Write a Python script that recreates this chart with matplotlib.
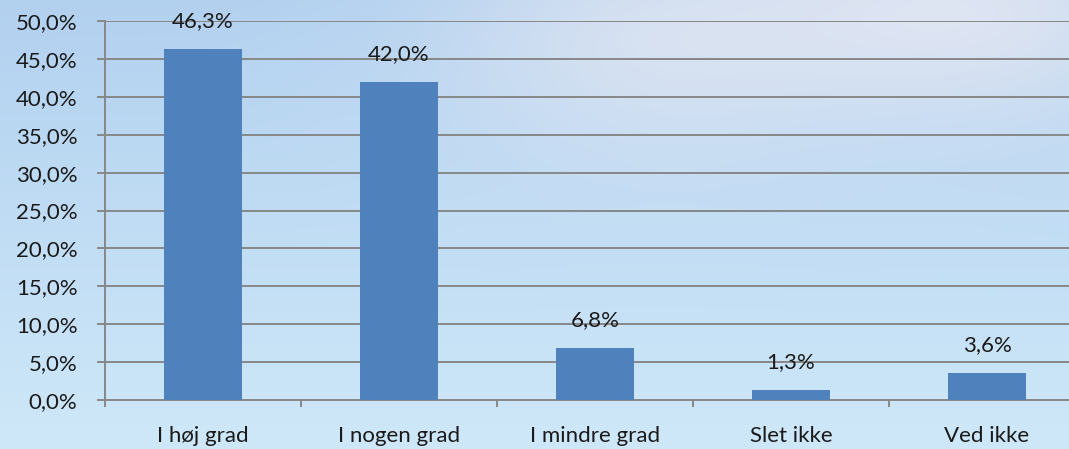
import numpy as np
import matplotlib
matplotlib.use("Agg")
import matplotlib.pyplot as plt
from matplotlib.ticker import FuncFormatter

categories = ["I høj grad", "I nogen grad", "I mindre grad", "Slet ikke", "Ved ikke"]
values = [46.3, 42.0, 6.8, 1.3, 3.6]
value_labels = ["46,3%", "42,0%", "6,8%", "1,3%", "3,6%"]
yticks = [0, 5, 10, 15, 20, 25, 30, 35, 40, 45, 50]

plt.rcParams['font.family'] = ['Lato', 'DejaVu Sans']
FS = 16
TXT = '#1a1a1a'

W, H = 1069, 449
fig = plt.figure(figsize=(W / 100, H / 100), dpi=100)

# sky background
bg = fig.add_axes([0, 0, 1, 1])
yy, xx = np.mgrid[0:H, 0:W]
top = np.array([0.70, 0.82, 0.94])
bot = np.array([0.81, 0.91, 0.975])
t = (yy / H)[..., None]
img = top * (1 - t) + bot * t
cloud = np.exp(-(((xx - 650) / 220.0) ** 2 + ((yy - 40) / 130.0) ** 2))
cloud2 = np.exp(-(((xx - 980) / 220.0) ** 2 + ((yy - 10) / 120.0) ** 2))
c = np.clip(0.7 * cloud + 0.85 * cloud2, 0, 1)[..., None]
cloudcol = np.array([0.88, 0.90, 0.95])
img = img * (1 - c) + cloudcol * c
bg.imshow(img, aspect='auto', extent=[0, 1, 0, 1], origin='upper')
bg.axis('off')

ax = fig.add_axes([105 / W, 49 / H, 980 / W, 379 / H])
ax.patch.set_alpha(0)
x = np.arange(len(categories))
ax.bar(x, values, width=0.4, color='#4f81bd', zorder=3)
for xi, v, lab in zip(x, values, value_labels):
    ax.annotate(lab, (xi, v), xytext=(0, 28), textcoords='offset pixels',
                ha='center', va='center', fontsize=FS, color=TXT, zorder=4)

ax.set_xlim(-0.5, len(categories) - 0.5)
ax.set_ylim(0, 50)
ax.set_yticks(yticks)
ax.yaxis.set_major_formatter(FuncFormatter(lambda v, p: f"{v:.1f}%".replace('.', ',')))
ax.grid(axis='y', color='#878787', linewidth=1.4, zorder=1)
ax.set_axisbelow(True)

ax.set_xticks(x)
ax.set_xticklabels(categories)
ax.set_xticks(np.arange(-0.5, len(categories) + 0.5, 1), minor=True)
ax.tick_params(axis='x', which='major', length=0, pad=19, labelsize=FS, labelcolor=TXT)
ax.tick_params(axis='x', which='minor', length=5, width=1.4, color='#878787', direction='out')
ax.tick_params(axis='y', length=5.8, width=1.4, color='#878787', pad=14, labelsize=FS, labelcolor=TXT)

for s in ['top', 'right']:
    ax.spines[s].set_visible(False)
ax.spines['left'].set_color('#878787')
ax.spines['left'].set_linewidth(1.4)
ax.spines['bottom'].set_color('#878787')
ax.spines['bottom'].set_linewidth(1.4)

fig.savefig("out.png", dpi=100)
